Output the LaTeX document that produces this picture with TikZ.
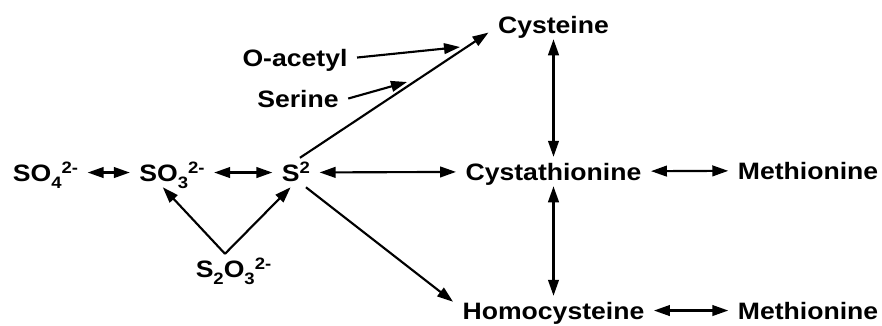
\documentclass[tikz,border=0pt]{standalone}
\usepackage{fontspec}
\setmainfont{Liberation Sans}[FakeStretch=1.12]
\usetikzlibrary{arrows.meta}
\newcommand{\chsub}[1]{\raisebox{-0.3em}{\fontsize{12.4}{14}\selectfont #1}}
\newcommand{\chsup}[1]{\raisebox{0.3em}{\fontsize{12.4}{14}\selectfont #1}}

\begin{document}
\begin{tikzpicture}[x=0.75pt,y=0.75pt,yscale=-1,xscale=1,
        chem/.style={font=\bfseries\fontsize{17.8}{20}\selectfont, anchor=base, inner xsep=7pt, inner ysep=4.5pt, text height=12.7pt, text depth=0pt},
        rxn/.style={line width=1.6pt, -{Triangle[length=12pt,width=8pt]}},
        twoway/.style={rxn, {Triangle[length=12pt,width=8pt]}-{Triangle[length=12pt,width=8pt]}}]
        \useasboundingbox (0,0) rectangle (882,325);

        % Text Node
        \node [chem] (so4) at (45.5,181) {SO\chsub{4}\chsup{2-}};
        % Text Node
        \node [chem] (so3) at (172,181) {SO\chsub{3}\chsup{2-}};
        % Text Node
        \node [chem] (s2) at (296,181) {S\chsup{2}};
        % Text Node
        \node [chem] (s2o3) at (233.5,277) {S\chsub{2}O\chsub{3}\chsup{2-}};
        % Text Node
        \node [chem] (oac) at (295,66) {O-acetyl};
        % Text Node
        \node [chem] (ser) at (298,107) {Serine};
        % Text Node
        \node [chem] (cys) at (553.5,33) {Cysteine};
        % Text Node
        \node [chem] (cysta) at (553.5,180) {Cystathionine};
        % Text Node
        \node [chem] (meth1) at (808,179) {Methionine};
        % Text Node
        \node [chem] (homo) at (553.5,319) {Homocysteine};
        % Text Node
        \node [chem] (meth2) at (808,319) {Methionine};

        \coordinate (oa-end) at (460,47);
        \coordinate (ser-end) at (407,82);

        %Straight Lines
        \draw [twoway] (so4) -- (so3);
        \draw [twoway] (so3) -- (s2);
        \draw [twoway] (s2) -- (cysta);
        \draw [twoway] (cysta) -- (meth1);
        \draw [twoway] (homo) -- (meth2);
        \draw [twoway] (cys.south) -- (cysta.north);
        \draw [twoway] (cysta.south) -- (homo.north);
        %Straight Lines
        \draw [rxn] (s2.75) -- (cys.187);
        \draw [rxn] (s2.-56) -- (homo.175);
        \draw [rxn] (oac.east) -- (oa-end);
        \draw [rxn] (ser.east) -- (ser-end);
        \draw [rxn] (s2o3.120) -- (so3.-122);
        \draw [rxn] (s2o3.120) -- (s2.-110);

\end{tikzpicture}
\end{document}
